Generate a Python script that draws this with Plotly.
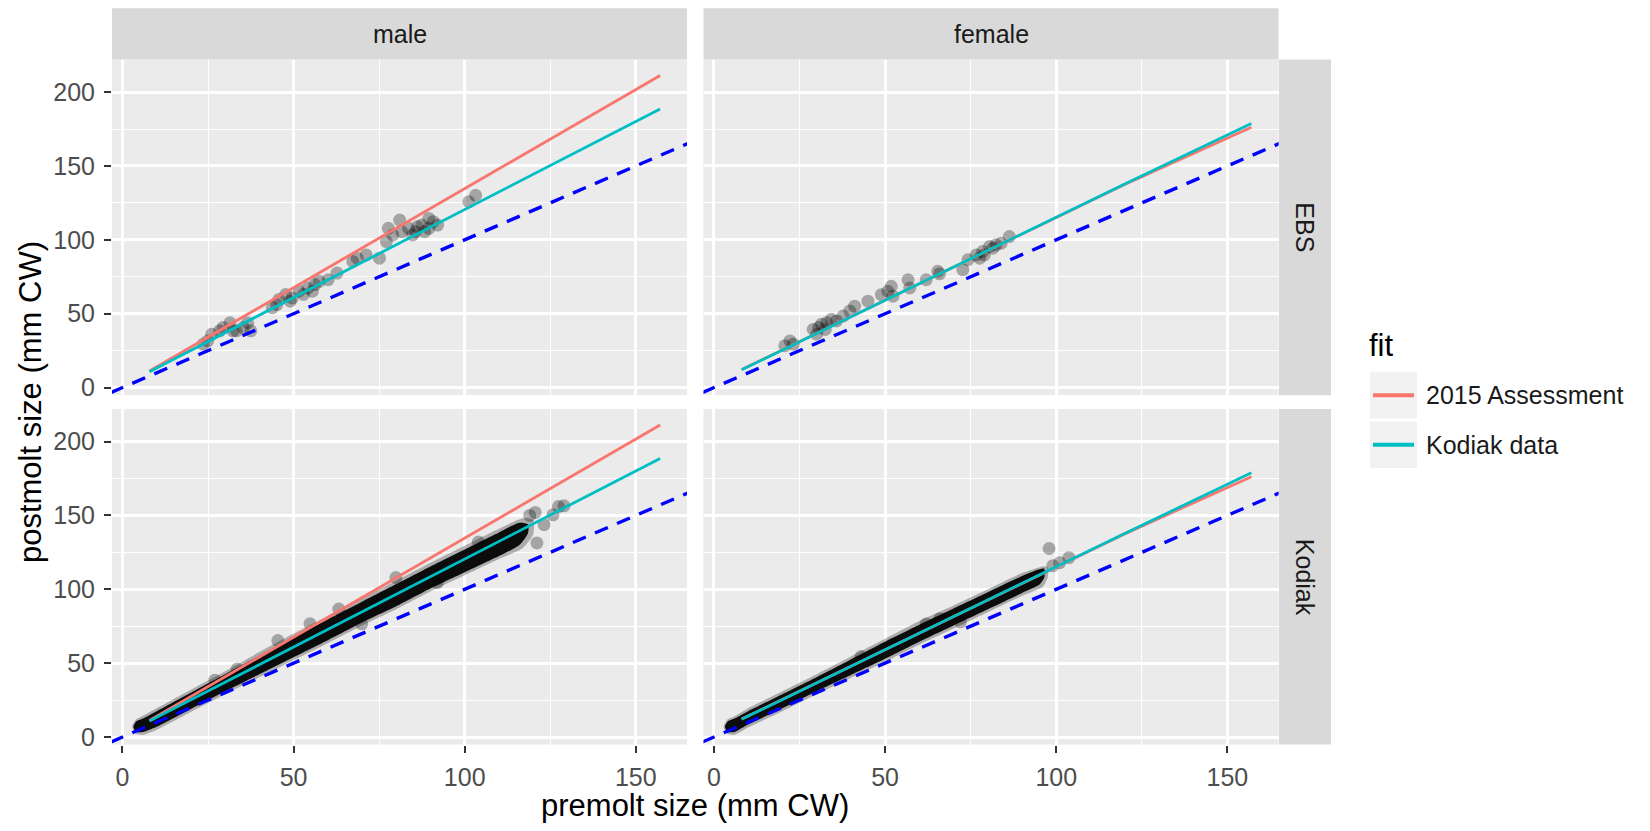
import plotly.graph_objects as go

W, H = 1650, 831


def px(x):
    return x / W


def py(y):
    return 1 - y / H


# ---------------- data ----------------
facet_cols = ["male", "female"]
facet_rows = ["EBS", "Kodiak"]
fit_names = ["2015 Assessment", "Kodiak data"]

# fitted growth lines (premolt -> postmolt)
male_line_x = [7.9, 157.1]
male_assess_y = [11.2, 211.2]
male_kodiak_y = [10.8, 188.5]
female_line_x = [8.1, 120.0, 157.0]
female_assess_y = [12.2, 137.5, 176.2]
female_kodiak_y = [12.0, 137.8, 178.8]

# 1:1 reference line
identity_x = [-10, 175]
identity_y = [-10, 175]

# EBS male observations
ebs_male_x = [23.6, 24.9, 26.1, 28.4, 29.4, 31.4, 32.3, 33.3, 35.3, 36.6, 37.5,
              43.8, 45.1, 45.7, 47.7, 49.0, 49.6, 51.6, 52.9, 54.2, 55.5, 56.2,
              57.5, 60.1, 62.7, 67.3, 68.6, 71.2, 75.1, 77.1, 77.7, 79.0, 81.0,
              81.6, 83.6, 84.8, 85.6, 86.2, 87.5, 88.3, 89.5, 89.5, 90.8, 92.1,
              101.2, 103.2]
ebs_male_y = [29.4, 31.6, 36.1, 38.4, 40.6, 43.9, 38.4, 38.4, 40.6, 43.9, 38.4,
              54.0, 56.2, 59.6, 63.0, 58.5, 60.7, 65.2, 63.0, 67.4, 65.2, 69.7,
              71.9, 73.0, 77.5, 85.4, 87.6, 89.8, 87.6, 98.8, 107.8, 103.3, 113.4,
              105.5, 107.8, 103.3, 105.5, 109.0, 110.0, 105.5, 114.5, 107.8, 112.3, 110.0,
              125.7, 130.1]

# EBS female observations
ebs_female_x = [20.7, 22.2, 23.2, 29.0, 30.0, 30.6, 31.4, 32.5, 32.9, 34.3, 35.8,
                37.7, 39.7, 41.1, 45.0, 48.9, 50.8, 51.8, 52.3, 56.7, 57.2, 62.0,
                65.4, 65.9, 72.7, 74.2, 76.6, 77.6, 78.5, 79.0, 80.5, 81.5, 82.4,
                83.9, 86.3]
ebs_female_y = [28.3, 31.6, 29.4, 39.4, 36.1, 40.6, 42.8, 39.4, 43.9, 46.2, 45.1,
                48.4, 51.8, 55.1, 58.5, 62.9, 65.2, 68.6, 61.9, 73.0, 67.4, 73.0,
                78.7, 77.0, 79.8, 86.5, 89.8, 87.6, 92.1, 89.8, 95.5, 94.3, 96.6,
                97.7, 102.2]

# Kodiak male: dense cloud outline (core and lighter fringe) + sparse points
km_core_x = [3.2, 4, 6, 10, 20, 30, 40, 50, 60, 70, 80, 90, 100, 110, 116, 118.5]
km_core_upper = [7, 10.5, 12.5, 17.5, 30, 42.5, 55, 67.5, 79.5, 91.5, 103.5, 115.5, 127, 138.5, 145, 144]
km_core_lower = [7, 3.5, 3.5, 7, 19, 31, 42.5, 54, 65.5, 77.5, 88.5, 100.5, 111.5, 122.5, 130, 138]
km_fringe_x = [2.8, 4, 6, 10, 20, 30, 40, 50, 60, 70, 80, 90, 100, 110, 117, 120]
km_fringe_upper = [7, 12, 14.5, 19.5, 32, 44.5, 57.5, 70, 82, 94, 106, 118, 129.5, 141, 148, 147]
km_fringe_lower = [7, 2, 1.5, 5, 17, 29, 40.5, 52, 63.5, 75.5, 86.5, 98.5, 109.5, 120.5, 128, 137]
km_pts_x = [27.0, 33.5, 45.4, 54.8, 63.2, 69.9, 74.0, 79.9, 92.0, 104.0, 119.0,
            120.6, 121.1, 123.2, 125.8, 127.4, 129.0]
km_pts_y = [38.5, 46.0, 65.3, 76.6, 86.6, 76.6, 90.0, 107.9, 104.5, 132.0, 150.0,
            152.0, 131.4, 143.7, 150.4, 156.0, 156.5]

# Kodiak female
kf_core_x = [3.2, 4, 6, 10, 20, 30, 40, 50, 60, 70, 80, 90, 95, 96.5]
kf_core_upper = [7, 10.5, 12.5, 17.5, 29, 40.5, 52.5, 64.5, 76, 87, 98, 109, 113.5, 114]
kf_core_lower = [7, 3.5, 3.5, 8.5, 19.5, 31, 42, 53, 64.5, 75.5, 86.5, 97.5, 103, 108]
kf_fringe_x = [2.8, 4, 6, 10, 20, 30, 40, 50, 60, 70, 80, 90, 96, 97.5]
kf_fringe_upper = [7, 12, 14, 19.5, 31, 42.5, 54.5, 66.5, 78.5, 89, 100, 111, 115.5, 115]
kf_fringe_lower = [7, 2, 1.5, 6.5, 17.5, 29, 40, 51, 62.5, 73.5, 84.5, 95.5, 101.5, 108]
kf_pts_x = [43.0, 52.0, 62.0, 66.0, 72.0, 97.9, 99.0, 101.0, 103.7]
kf_pts_y = [54.5, 62.5, 76.5, 80.0, 78.0, 127.6, 116.0, 118.0, 121.4]

x_tick_vals = [0, 50, 100, 150]
y_tick_vals = [0, 50, 100, 150, 200]

# ---------------- style ----------------
RED = "#F8766D"
CYAN = "#00BFC4"
PANEL_BG = "#EBEBEB"
STRIP_BG = "#D9D9D9"
FONT = "Liberation Sans, Arial, Helvetica, sans-serif"
PT_COLOR = "rgba(0,0,0,0.30)"

fig = go.Figure()

panels = {
    ("EBS", "male"): ("x", "y"),
    ("EBS", "female"): ("x2", "y2"),
    ("Kodiak", "male"): ("x3", "y3"),
    ("Kodiak", "female"): ("x4", "y4"),
}


def add_points(ax, xs, ys):
    fig.add_trace(go.Scatter(x=xs, y=ys, mode="markers", xaxis=ax[0], yaxis=ax[1],
                             marker=dict(size=13, color=PT_COLOR, line=dict(width=0)),
                             showlegend=False, hoverinfo="skip"))


def add_cloud(ax, xs, upper, lower, color):
    fig.add_trace(go.Scatter(x=list(xs) + list(xs[::-1]), y=list(upper) + list(lower[::-1]),
                             mode="lines", fill="toself", fillcolor=color,
                             line=dict(width=0, color=color, shape="spline", smoothing=0.6),
                             xaxis=ax[0], yaxis=ax[1],
                             showlegend=False, hoverinfo="skip"))


# observations
add_points(panels[("EBS", "male")], ebs_male_x, ebs_male_y)
add_points(panels[("EBS", "female")], ebs_female_x, ebs_female_y)

ax = panels[("Kodiak", "male")]
add_cloud(ax, km_fringe_x, km_fringe_upper, km_fringe_lower, "rgba(0,0,0,0.27)")
add_cloud(ax, km_core_x, km_core_upper, km_core_lower, "rgba(0,0,0,0.93)")
add_points(ax, km_pts_x, km_pts_y)

ax = panels[("Kodiak", "female")]
add_cloud(ax, kf_fringe_x, kf_fringe_upper, kf_fringe_lower, "rgba(0,0,0,0.27)")
add_cloud(ax, kf_core_x, kf_core_upper, kf_core_lower, "rgba(0,0,0,0.93)")
add_points(ax, kf_pts_x, kf_pts_y)

# lines
for (row, col), ax in panels.items():
    fig.add_trace(go.Scatter(x=identity_x, y=identity_y, mode="lines", xaxis=ax[0], yaxis=ax[1],
                             line=dict(color="#0000FF", width=3.4, dash="14px,10px"),
                             showlegend=False, hoverinfo="skip"))
    if col == "male":
        lx, ya, yk = male_line_x, male_assess_y, male_kodiak_y
    else:
        lx, ya, yk = female_line_x, female_assess_y, female_kodiak_y
    fig.add_trace(go.Scatter(x=lx, y=ya, mode="lines", xaxis=ax[0], yaxis=ax[1],
                             line=dict(color=RED, width=2.8), name=fit_names[0],
                             showlegend=False, hoverinfo="skip"))
    fig.add_trace(go.Scatter(x=lx, y=yk, mode="lines", xaxis=ax[0], yaxis=ax[1],
                             line=dict(color=CYAN, width=2.8), name=fit_names[1],
                             showlegend=False, hoverinfo="skip"))

# ---------------- axes ----------------
x_dom = {"male": [px(112), px(687)], "female": [px(703.5), px(1278.6)]}
y_dom = {"EBS": [py(398), py(60)], "Kodiak": [py(750), py(412)]}

tickfont = dict(family=FONT, size=25, color="#4D4D4D")
layout_axes = {}
for (row, col), ax in panels.items():
    xname = "xaxis" + ax[0][1:]
    yname = "yaxis" + ax[1][1:]
    show_x = row == "Kodiak"
    show_y = col == "male"
    layout_axes[xname] = dict(
        domain=x_dom[col], anchor=ax[1], range=[-3.05, 164.95],
        tickvals=x_tick_vals, ticktext=[str(v) for v in x_tick_vals],
        showgrid=True, gridcolor="white", gridwidth=2.8,
        minor=dict(tickvals=[25, 75, 125], showgrid=True, gridcolor="white", gridwidth=1.4, ticks=""),
        zeroline=False, showline=False,
        ticks="outside" if show_x else "", ticklen=7, tickwidth=1.6, tickcolor="#333333",
        showticklabels=show_x, tickfont=tickfont, ticklabelstandoff=3,
        fixedrange=True,
    )
    layout_axes[yname] = dict(
        domain=y_dom[row], anchor=ax[0], range=[-5.1, 222],
        tickvals=y_tick_vals, ticktext=[str(v) for v in y_tick_vals],
        showgrid=True, gridcolor="white", gridwidth=2.8,
        minor=dict(tickvals=[25, 75, 125, 175], showgrid=True, gridcolor="white", gridwidth=1.4, ticks=""),
        zeroline=False, showline=False,
        ticks="outside" if show_y else "", ticklen=7, tickwidth=1.6, tickcolor="#333333",
        showticklabels=show_y, tickfont=tickfont, ticklabelstandoff=4,
        fixedrange=True,
    )

# ---------------- strips, legend, titles ----------------
shapes = []
annotations = []
strip_font = dict(family=FONT, size=25, color="#1A1A1A")

for col in facet_cols:
    x0, x1 = x_dom[col]
    shapes.append(dict(type="rect", xref="paper", yref="paper", x0=x0, x1=x1,
                       y0=py(60), y1=py(8.3), fillcolor=STRIP_BG, line=dict(width=0), layer="below"))
    annotations.append(dict(text=col, xref="paper", yref="paper", x=(x0 + x1) / 2, y=py(34.2),
                            xanchor="center", yanchor="middle", showarrow=False, font=strip_font))
for row in facet_rows:
    y0, y1 = y_dom[row]
    shapes.append(dict(type="rect", xref="paper", yref="paper", x0=px(1279), x1=px(1331),
                       y0=y0, y1=y1, fillcolor=STRIP_BG, line=dict(width=0), layer="below"))
    annotations.append(dict(text=row, xref="paper", yref="paper", x=px(1305), y=(y0 + y1) / 2,
                            xanchor="center", yanchor="middle", textangle=90, showarrow=False,
                            font=strip_font))

# legend (ggplot-style keys)
annotations.append(dict(text="fit", xref="paper", yref="paper", x=px(1367), y=py(348),
                        xanchor="left", yanchor="middle", showarrow=False,
                        font=dict(family=FONT, size=31, color="black")))
key_centers = [398, 448]
key_colors = [RED, CYAN]
for name, cy, colr in zip(fit_names, key_centers, key_colors):
    shapes.append(dict(type="rect", xref="paper", yref="paper", x0=px(1370), x1=px(1417),
                       y0=py(cy + 23.5), y1=py(cy - 23.5), fillcolor="#F2F2F2", line=dict(width=0)))
    shapes.append(dict(type="line", xref="paper", yref="paper", x0=px(1373), x1=px(1414),
                       y0=py(cy), y1=py(cy), line=dict(color=colr, width=4)))
    annotations.append(dict(text=name, xref="paper", yref="paper", x=px(1424), y=py(cy),
                            xanchor="left", yanchor="middle", showarrow=False,
                            font=dict(family=FONT, size=25, color="#1A1A1A")))

# axis titles
annotations.append(dict(text="premolt size (mm CW)", xref="paper", yref="paper",
                        x=px(695.3), y=py(811), xanchor="center", yanchor="middle",
                        showarrow=False, font=dict(family=FONT, size=31, color="black")))
annotations.append(dict(text="postmolt size (mm CW)", xref="paper", yref="paper",
                        x=px(30), y=py(405), xanchor="center", yanchor="middle", textangle=-90,
                        showarrow=False, font=dict(family=FONT, size=31, color="black")))

fig.update_layout(
    width=W, height=H, autosize=False,
    margin=dict(l=0, r=0, t=0, b=0),
    paper_bgcolor="white", plot_bgcolor=PANEL_BG,
    showlegend=False, shapes=shapes, annotations=annotations,
    font=dict(family=FONT),
    **layout_axes,
)

fig.write_html("out.html", config={"displayModeBar": False},
               post_script="document.body.style.margin='0px';")
